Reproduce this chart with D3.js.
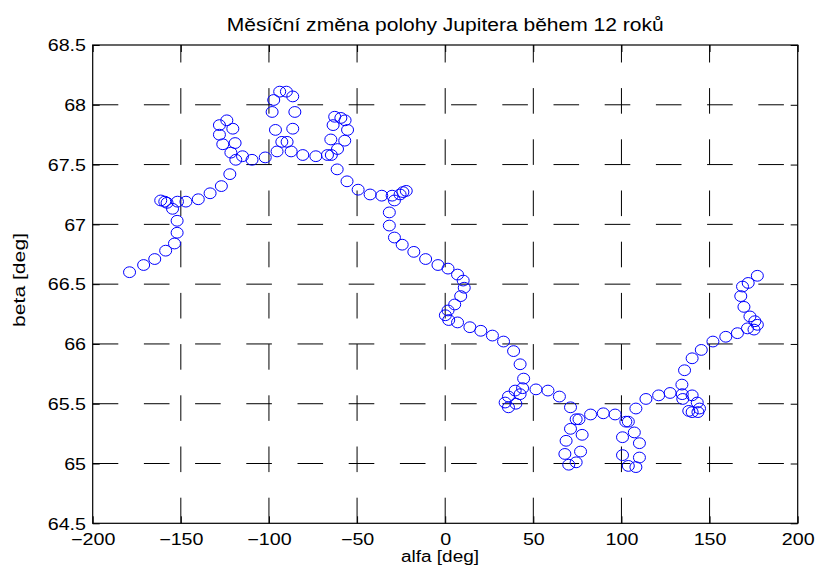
<!DOCTYPE html>
<html>
<head>
<meta charset="utf-8">
<script src="https://cdn.jsdelivr.net/npm/d3@7/dist/d3.min.js"></script>
<style>
  html, body { margin: 0; padding: 0; background: #fff; }
  svg { display: block; }
  text { font-family: "Liberation Sans", Arial, Helvetica, sans-serif; fill: #000; }
</style>
</head>
<body>
<svg id="chart" width="818" height="571"></svg>
<script>
// ---- data ----
const titleText = "Měsíční změna polohy Jupitera během 12 roků";
const xLabelText = "alfa [deg]";
const yLabelText = "beta [deg]";
const xTicks = [-200, -150, -100, -50, 0, 50, 100, 150, 200];
const yTicks = [64.5, 65, 65.5, 66, 66.5, 67, 67.5, 68, 68.5];
const xDomain = [-200, 200];
const yDomain = [64.5, 68.5];

// alfa [deg] of each monthly position
const alfa = [
  -179.1, -171.1, -164.8, -158.6, -153.6, -152.1, -152.1, -154.7, -157.8, -161.4,
  -159.1, -151.9, -147.1, -140.1, -133.4, -127.0, -122.2, -118.8, -121.6, -126.2,
  -128.1, -128.1, -123.9, -120.5, -119.2, -115.0, -109.6, -102.1, -95.4, -96.3,
  -98.2, -97.3, -93.9, -90.1, -86.5, -85.3, -86.5, -92.7, -89.7, -87.4,
  -80.8, -73.4, -66.8, -64.6, -64.9, -63.6, -62.7, -59.2, -56.8, -55.4,
  -57.0, -61.1, -61.3, -55.7, -49.4, -42.6, -36.0, -30.1, -28.8, -25.6,
  -24.0, -22.1, -31.7, -31.7, -28.8, -24.4, -17.8, -11.1, -4.1, 1.6,
  7.0, 10.2, 10.8, 8.8, 5.4, 1.6, 0.1, 2.0, 7.0, 14.0,
  20.2, 26.8, 33.1, 38.8, 42.5, 44.5, 43.9, 39.7, 35.9, 34.0,
  35.9, 40.1, 42.5, 51.5, 58.3, 64.8, 71.1, 75.9, 74.3, 71.1,
  68.6, 67.9, 70.1, 74.3, 76.8, 77.7, 82.5, 89.7, 96.4, 102.5,
  103.9, 100.6, 100.6, 103.9, 108.2, 110.2, 110.2, 107.3, 108.2, 113.9,
  121.1, 127.6, 134.3, 134.5, 134.8, 140.1, 143.0, 144.3, 143.4, 140.1,
  138.2, 135.8, 140.1, 145.3, 151.9, 159.2, 165.8, 171.5, 175.2, 177.1,
  175.7, 172.9, 169.5, 167.7, 168.7, 171.9, 177.1
];
// beta [deg] of each monthly position
const beta = [
  66.60, 66.66, 66.71, 66.78, 66.84, 66.93, 67.03, 67.13, 67.18, 67.20,
  67.19, 67.19, 67.19, 67.21, 67.26, 67.32, 67.42, 67.54, 67.60, 67.67,
  67.75, 67.83, 67.87, 67.80, 67.68, 67.57, 67.54, 67.56, 67.61, 67.79,
  67.94, 68.04, 68.11, 68.11, 68.07, 67.94, 67.80, 67.69, 67.69, 67.61,
  67.58, 67.57, 67.58, 67.58, 67.71, 67.83, 67.90, 67.89, 67.87, 67.79,
  67.70, 67.63, 67.46, 67.36, 67.29, 67.25, 67.24, 67.24, 67.20, 67.25,
  67.27, 67.28, 67.10, 66.99, 66.89, 66.83, 66.77, 66.71, 66.66, 66.63,
  66.58, 66.53, 66.47, 66.40, 66.33, 66.28, 66.24, 66.20, 66.18, 66.14,
  66.11, 66.07, 66.02, 65.94, 65.83, 65.71, 65.63, 65.61, 65.56, 65.51,
  65.47, 65.50, 65.58, 65.62, 65.61, 65.56, 65.47, 65.37, 65.37, 65.29,
  65.19, 65.08, 64.99, 65.01, 65.10, 65.24, 65.41, 65.42, 65.41, 65.35,
  65.35, 65.22, 65.07, 64.98, 64.97, 65.05, 65.17, 65.26, 65.46, 65.54,
  65.57, 65.59, 65.66, 65.58, 65.54, 65.57, 65.51, 65.46, 65.43, 65.43,
  65.44, 65.78, 65.88, 65.95, 66.02, 66.06, 66.09, 66.13, 66.12, 66.16,
  66.19, 66.23, 66.31, 66.40, 66.48, 66.51, 66.57
];

// ---- layout ----
const L = 92.7, R = 797.7, T = 45, B = 523.3;
const sx = 1.23; // horizontal stretch of the reference lettering

const svg = d3.select("#chart");
const x = d3.scaleLinear().domain(xDomain).range([L, R]);
const y = d3.scaleLinear().domain(yDomain).range([B, T]);

// ---- grid (dashed) ----
const grid = svg.append("g").attr("class", "grid");
grid.selectAll("line.v")
  .data(xTicks.filter(d => d > xDomain[0] && d < xDomain[1]))
  .join("line")
  .attr("class", "v")
  .attr("x1", d => x(d)).attr("x2", d => x(d))
  .attr("y1", B).attr("y2", T)
  .attr("stroke", "#000").attr("stroke-width", 1)
  .attr("stroke-dasharray", "25.6,25.6");
grid.selectAll("line.h")
  .data(yTicks.filter(d => d > yDomain[0] && d < yDomain[1]))
  .join("line")
  .attr("class", "h")
  .attr("x1", L).attr("x2", R)
  .attr("y1", d => y(d)).attr("y2", d => y(d))
  .attr("stroke", "#000").attr("stroke-width", 1)
  .attr("stroke-dasharray", "25.6,25.6");

// ---- axes (inward ticks on all four sides) ----
const gx = svg.append("g").attr("transform", `translate(0,${B})`)
  .call(d3.axisBottom(x).tickValues(xTicks).tickSize(-7).tickSizeOuter(0));
const gy = svg.append("g").attr("transform", `translate(${L},0)`)
  .call(d3.axisLeft(y).tickValues(yTicks).tickSize(-7).tickSizeOuter(0)
        .tickFormat(d3.format("")));
const gt = svg.append("g").attr("transform", `translate(0,${T})`)
  .call(d3.axisTop(x).tickValues(xTicks).tickSize(-7).tickSizeOuter(0).tickFormat(""));
const gr = svg.append("g").attr("transform", `translate(${R},0)`)
  .call(d3.axisRight(y).tickValues(yTicks).tickSize(-7).tickSizeOuter(0).tickFormat(""));

[gx, gy, gt, gr].forEach(g => {
  g.select(".domain").remove();
  g.selectAll(".tick line").attr("stroke", "#000").attr("stroke-width", 1);
});

gx.selectAll(".tick text")
  .attr("font-family", null).attr("font-size", null)
  .style("font-size", "16px")
  .attr("y", 21.7).attr("dy", 0)
  .attr("transform", `scale(${sx},1)`)
  .attr("fill", "#000");

gy.selectAll(".tick text")
  .style("font-size", "16px")
  .attr("x", -6.7 / sx).attr("dy", 5.8)
  .attr("transform", `scale(${sx},1)`)
  .attr("fill", "#000");

// ---- box ----
svg.append("rect")
  .attr("x", L).attr("y", T)
  .attr("width", R - L).attr("height", B - T)
  .attr("fill", "none").attr("stroke", "#000").attr("stroke-width", 1.2);

// ---- markers ----
const pts = alfa.map((a, i) => ({ a, b: beta[i] }));
svg.append("g").selectAll("ellipse")
  .data(pts)
  .join("ellipse")
  .attr("cx", d => x(d.a))
  .attr("cy", d => y(d.b))
  .attr("rx", 6.0).attr("ry", 5.4)
  .attr("fill", "none")
  .attr("stroke", "#0000ff")
  .attr("stroke-width", 1);

// ---- title and axis labels ----
svg.append("text")
  .attr("x", (L + R) / 2).attr("y", 31)
  .attr("text-anchor", "middle")
  .style("font-size", "18px")
  .attr("textLength", 437).attr("lengthAdjust", "spacingAndGlyphs")
  .text(titleText);

svg.append("text")
  .attr("x", 440).attr("y", 562.3)
  .attr("text-anchor", "middle")
  .style("font-size", "16px")
  .attr("textLength", 78).attr("lengthAdjust", "spacingAndGlyphs")
  .text(xLabelText);

svg.append("text")
  .attr("transform", "translate(25,280) rotate(-90)")
  .attr("text-anchor", "middle")
  .style("font-size", "16px")
  .attr("textLength", 94).attr("lengthAdjust", "spacingAndGlyphs")
  .text(yLabelText);
</script>
</body>
</html>
